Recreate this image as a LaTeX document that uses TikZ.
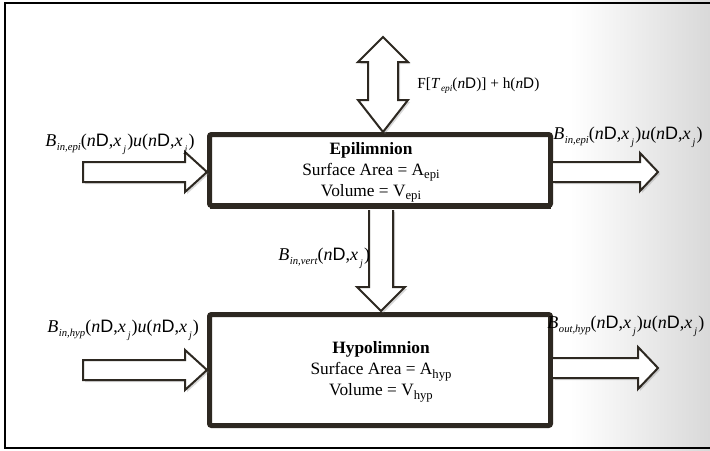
\documentclass[tikz,border=0pt]{standalone}
\usepackage{fontspec}
\setmainfont{Liberation Serif}
\setsansfont{Liberation Sans}
\usetikzlibrary{shadows}
\definecolor{boxc}{RGB}{45,40,33}
\newcommand\myB[1]{\textit{B}\kern0.5pt\raisebox{-0.6ex}{\fontsize{8}{9}\selectfont\textit{#1}}}
\newcommand\mynD{\textit{n}\textsf{D}}
\newcommand\myxj{\textit{x}\kern1.5pt\raisebox{-0.8ex}{\fontsize{7.5}{8}\selectfont\textit{j}}\kern0.8pt}
\newcommand\mysub[1]{\raisebox{-0.45ex}{\fontsize{9.5}{10}\selectfont #1}}
\begin{document}
\begin{tikzpicture}[x=0.75pt,y=-0.75pt,
  lake/.style={draw=boxc,line width=3.75pt,rounded corners=1.5pt,fill=white,inner sep=0pt,minimum width=255.75pt,
    drop shadow={shadow xshift=1.5pt,shadow yshift=-1.5pt,opacity=0.25}},
  barrow/.style={draw=boxc,line width=1.5pt,fill=white,line join=miter,
    drop shadow={shadow xshift=1.5pt,shadow yshift=-1.5pt,opacity=0.3}},
  lbl/.style={anchor=base west,inner sep=0pt,font=\fontsize{13.5}{15}\selectfont},
  boxtxt/.style={align=center,inner sep=0pt,font=\fontsize{13}{15.75}\selectfont}]
\useasboundingbox (0,0) rectangle (710,450);
\fill[white] (0,0) rectangle (710,450);
\shade[left color=white,right color=black!15] (570,0) rectangle (710,450);
\draw[black,line width=1.3pt] (712,3) -- (5,3) -- (5,448) -- (712,448);

% lake layers
\node[lake,minimum height=53.25pt] (epi) at (380,170) {};
\node[lake,minimum height=83.25pt] (hyp) at (380,370) {};

\node[boxtxt] (epitxt) at (371,172.5) {\textbf{Epilimnion}\\Surface Area = A\mysub{epi}\\Volume = V\mysub{epi}};
\node[boxtxt] (hyptxt) at (381,372) {\textbf{Hypolimnion}\\Surface Area = A\mysub{hyp}\\Volume = V\mysub{hyp}};

% block arrows
\coordinate (epiin) at (207,172);
\coordinate (epiout) at (553,172);
\coordinate (hypin) at (207,370);
\coordinate (hypout) at (553,368);
\coordinate (vtop) at (381,208);
\coordinate (vbot) at (381,311);
\coordinate (dtop) at (383,37);
\coordinate (dbot) at (383,132);

\path[barrow] (83,162) -- (185,162) -- (185,152) -- (epiin) -- (185,192) -- (185,182) -- (83,182) -- cycle;
\path[barrow] (epiout |- 0,162) -- (640,162) -- (640,153) -- (658,172) -- (640,191) -- (640,182) -- (epiout |- 0,182);
\path[barrow] (83,360) -- (185,360) -- (185,350) -- (hypin) -- (185,390) -- (185,380) -- (83,380) -- cycle;
\path[barrow] (hypout |- 0,358) -- (638,358) -- (638,347) -- (658,368) -- (638,389) -- (638,378) -- (hypout |- 0,378);
\path[barrow] (369,210) -- (369,287) -- (357,287) -- (vbot) -- (405,287) -- (393,287) -- (393,210);
\path[barrow] (dtop) -- (408,62) -- (398,62) -- (398,100) -- (408,100) -- (dbot) -- (358,100) -- (368,100) -- (368,62) -- (358,62) -- cycle;
\draw[boxc,line width=3.75pt] (209.5,206) -- (550.5,206);

% labels
\node[lbl] (l1) at (45,146) {\myB{in,epi}(\mynD,\myxj)\textit{u}(\mynD,\myxj)};
\node[lbl] (l2) at (553,139) {\myB{in,epi}(\mynD,\myxj)\textit{u}(\mynD,\myxj)};
\node[lbl] (l3) at (278,260) {\myB{in,vert}(\mynD,\myxj)};
\node[lbl] (l4) at (47,332) {\myB{in,hyp}(\mynD,\myxj)\textit{u}(\mynD,\myxj)};
\node[lbl] (l5) at (547,328) {\myB{out,hyp}(\mynD,\myxj)\textit{u}(\mynD,\myxj)};
\node[lbl,font=\fontsize{11.5}{13}\selectfont] (l6) at (417,88) {F[\textit{T}\kern0.5pt\raisebox{-0.55ex}{\fontsize{7}{8}\selectfont\textit{epi}}(\mynD)] + h(\mynD)};
\end{tikzpicture}
\end{document}
